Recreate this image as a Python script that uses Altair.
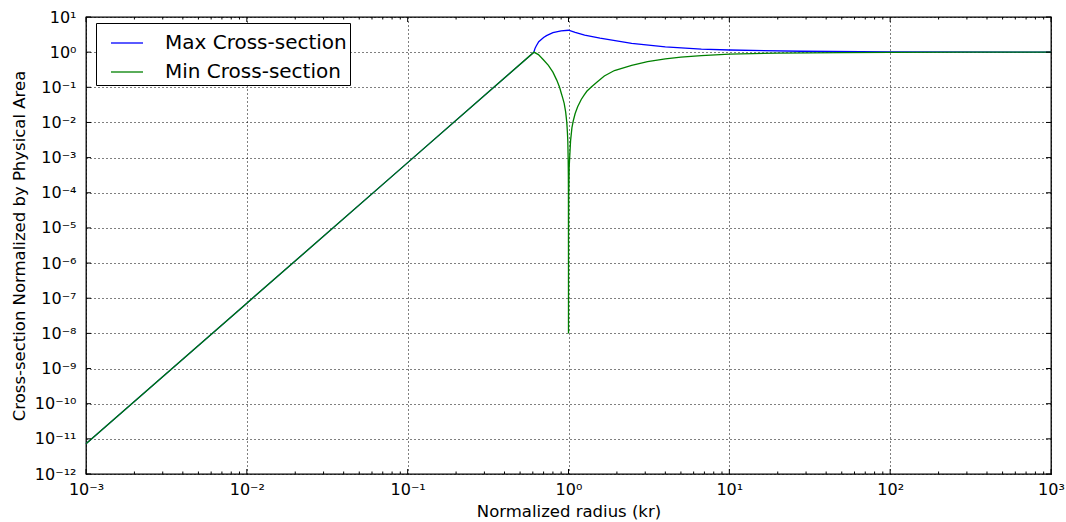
import altair as alt
import pandas as pd

# Plot-area size in pixels
W, H = 965, 457

# Rayleigh-like rise shared by both curves (normalized radius, cross-section ratio)
RISE_X = [0.001, 0.01, 0.1, 0.61]
RISE_Y = [7.2e-12, 7.2e-8, 7.2e-4, 1.0]

# Upper branch after the knee
MAX_X = [0.612, 0.62, 0.63, 0.653, 0.70, 0.73, 0.80, 0.90, 1.0, 1.1, 1.26,
         1.57, 2.47, 4.0, 6.7, 10.0, 28.0, 100.0, 1000.0]
MAX_Y = [1.08, 1.3, 1.5, 1.98, 2.6, 2.94, 3.6, 4.05, 4.2, 3.65, 3.06,
         2.5, 1.77, 1.42, 1.22, 1.15, 1.06, 1.02, 1.0]

# Lower branch after the knee, with the resonance dip at kr = 1
MIN_X = [0.65, 0.70, 0.75, 0.80, 0.845, 0.88, 0.90, 0.92, 0.94, 0.96, 0.976,
         0.985, 0.99, 0.995, 0.998, 0.999, 0.9999, 1.0,
         1.0005, 1.003, 1.01, 1.03, 1.05, 1.07, 1.1, 1.14, 1.2, 1.25, 1.3,
         1.38, 1.5, 1.67, 1.93, 2.47, 3.1, 4.0, 5.0, 6.7, 10.0, 20.0, 50.0,
         100.0, 300.0, 1000.0]
MIN_Y = [0.85, 0.6, 0.42, 0.27, 0.16, 0.1, 0.07, 0.05, 0.035, 0.02, 0.01,
         0.005, 0.003, 0.001, 3e-4, 1e-4, 1e-6, 1e-8,
         6e-6, 9e-5, 5.5e-4, 3e-3, 0.007, 0.011, 0.018, 0.028, 0.045, 0.06, 0.077,
         0.1, 0.14, 0.21, 0.3, 0.42, 0.54, 0.64, 0.72, 0.8, 0.88, 0.94, 0.975,
         0.99, 0.997, 1.0]

SERIES = ["Max Cross-section", "Min Cross-section"]
COLORS = ["#0000ff", "#008000"]

# Axis ticks and labels
X_MAJOR = [1e-3, 1e-2, 1e-1, 1e0, 1e1, 1e2, 1e3]
X_LABELS = ["10⁻³", "10⁻²", "10⁻¹", "10⁰", "10¹", "10²", "10³"]
X_MINOR = [k * m for m in X_MAJOR[:-1] for k in range(2, 10)]
Y_MAJOR = [10.0 ** e for e in range(-12, 2)]
Y_LABELS = ["10⁻¹²", "10⁻¹¹", "10⁻¹⁰", "10⁻⁹", "10⁻⁸", "10⁻⁷", "10⁻⁶",
            "10⁻⁵", "10⁻⁴", "10⁻³", "10⁻²", "10⁻¹", "10⁰", "10¹"]

rows = []
for name, xs, ys in [(SERIES[0], RISE_X + MAX_X, RISE_Y + MAX_Y),
                     (SERIES[1], RISE_X + MIN_X, RISE_Y + MIN_Y)]:
    for i, (x, y) in enumerate(zip(xs, ys)):
        rows.append({"series": name, "kr": x, "ratio": y, "i": i})
curves = pd.DataFrame(rows)

FONT = "DejaVu Sans"


def label_expr(labels, low):
    arr = "[" + ",".join("'%s'" % s for s in labels) + "]"
    return "%s[round(log(datum.value)/LN10) - (%d)]" % (arr, low)


x_scale = alt.Scale(type="log", domain=[1e-3, 1e3], nice=False)
y_scale = alt.Scale(type="log", domain=[1e-12, 1e1], nice=False)

grid_style = dict(grid=True, gridColor="black", gridDash=[1, 3], gridWidth=1,
                  gridOpacity=1, ticks=False, domain=False, labelFont=FONT,
                  labelFontSize=16, labelColor="black", labelFlush=False,
                  labelOverlap=False, titleFont=FONT, titleFontSize=16.5,
                  titleFontWeight="normal", titleColor="black")

x_axis = alt.Axis(values=X_MAJOR, labelExpr=label_expr(X_LABELS, -3),
                  labelPadding=7, title="Normalized radius (kr)",
                  titlePadding=6, **grid_style)
y_axis = alt.Axis(values=Y_MAJOR, labelExpr=label_expr(Y_LABELS, -12),
                  labelPadding=10,
                  title="Cross-section Normalized by Physical Area",
                  titlePadding=7, **grid_style)

lines = alt.Chart(curves).mark_line(strokeWidth=1.3).encode(
    x=alt.X("kr:Q", scale=x_scale, axis=x_axis),
    y=alt.Y("ratio:Q", scale=y_scale, axis=y_axis),
    color=alt.Color("series:N",
                    scale=alt.Scale(domain=SERIES, range=COLORS),
                    legend=alt.Legend(orient="none", legendX=10, legendY=6,
                                      title=None, strokeColor="black",
                                      fillColor="white", padding=3,
                                      cornerRadius=0, symbolType="stroke",
                                      symbolSize=1024, symbolStrokeWidth=1.3,
                                      symbolOffset=11, labelOffset=21,
                                      labelFont=FONT, labelFontSize=20,
                                      labelColor="black", labelLimit=400,
                                      rowPadding=2)),
    order="i:Q",
    detail="series:N",
)

# Inward tick marks on all four sides of the frame
xt_major = pd.DataFrame({"kr": X_MAJOR})
xt_minor = pd.DataFrame({"kr": X_MINOR})
yt_major = pd.DataFrame({"ratio": Y_MAJOR})


def xticks(df, y0, y1):
    return alt.Chart(df).mark_rule(color="black", strokeWidth=1).encode(
        x=alt.X("kr:Q", scale=x_scale, axis=x_axis),
        y=alt.value(y0), y2=alt.value(y1))


def yticks(df, x0, x1):
    return alt.Chart(df).mark_rule(color="black", strokeWidth=1).encode(
        y=alt.Y("ratio:Q", scale=y_scale, axis=y_axis),
        x=alt.value(x0), x2=alt.value(x1))


ticks = [
    xticks(xt_major, H, H - 5), xticks(xt_minor, H, H - 2.5),
    xticks(xt_major, 0, 5), xticks(xt_minor, 0, 2.5),
    yticks(yt_major, 0, 5), yticks(yt_major, W, W - 5),
]

chart = alt.layer(lines, *ticks).properties(
    width=W, height=H,
    autosize=alt.AutoSizeParams(type="none"),
    padding={"left": 86, "top": 17, "right": 15, "bottom": 48},
).configure(font=FONT).configure_view(stroke="black", strokeWidth=1.3)

chart.save("out.html", embed_options={"renderer": "svg", "actions": False})
